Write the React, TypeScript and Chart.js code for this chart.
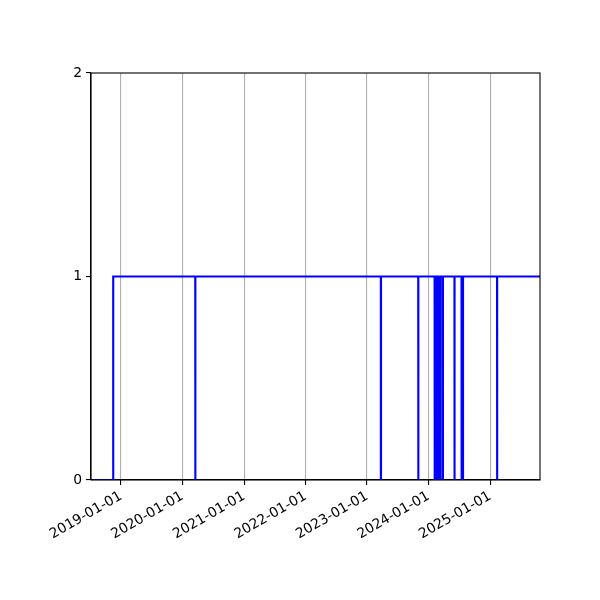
import { useEffect, useRef } from 'react';
import { Chart, registerables } from 'chart.js';

Chart.register(...registerables);

// Step series: 0 until the rise, then 1 with short dips to 0
const startDate = '2018-07-07';
const riseDate = '2018-11-16';
const endDate = '2025-10-24';
const dropDates = [
	'2020-03-17', '2023-03-24', '2023-11-01', '2024-02-06', '2024-02-14',
	'2024-02-23', '2024-03-03', '2024-03-12', '2024-03-26', '2024-06-03',
	'2024-07-15', '2024-07-23', '2025-02-11',
];
const restoreDates = [
	'2020-03-18', '2023-03-25', '2023-11-02', '2024-02-07', '2024-02-15',
	'2024-02-24', '2024-03-04', '2024-03-13', '2024-03-27', '2024-06-04',
	'2024-07-16', '2024-07-24', '2025-02-12',
];
const xTickLabels = [
	'2019-01-01', '2020-01-01', '2021-01-01', '2022-01-01',
	'2023-01-01', '2024-01-01', '2025-01-01',
];
const yTicks = [0, 1, 2];

const ts = (d: string) => Date.parse(d + 'T00:00:00Z');

const frame = {
	id: 'frame',
	afterDraw(chart: any) {
		const { ctx, chartArea } = chart;
		ctx.save();
		ctx.strokeStyle = '#000';
		ctx.lineWidth = 1.1;
		ctx.strokeRect(chartArea.left, chartArea.top, chartArea.right - chartArea.left, chartArea.bottom - chartArea.top);
		ctx.restore();
	},
};

export default function App() {
	const canvasRef = useRef<HTMLCanvasElement>(null);

	useEffect(() => {
		document.body.style.margin = '0';
		if (!canvasRef.current) return;

		const points: { x: number; y: number }[] = [
			{ x: ts(startDate), y: 0 },
			{ x: ts(riseDate), y: 0 },
			{ x: ts(riseDate), y: 1 },
		];
		dropDates.forEach((d, i) => {
			points.push({ x: ts(d), y: 1 });
			points.push({ x: ts(d), y: 0 });
			points.push({ x: ts(restoreDates[i]), y: 0 });
			points.push({ x: ts(restoreDates[i]), y: 1 });
		});
		points.push({ x: ts(endDate), y: 1 });

		const font = { family: 'DejaVu Sans', size: 13.9 };

		const chart = new Chart(canvasRef.current, {
			type: 'line',
			data: {
				datasets: [
					{
						data: points,
						borderColor: '#0000ff',
						borderWidth: 2.1,
						pointRadius: 0,
						fill: false,
						tension: 0,
					},
				],
			},
			options: {
				animation: false,
				responsive: true,
				maintainAspectRatio: false,
				layout: { padding: { left: 0, top: 73, right: 60, bottom: 0 } },
				plugins: { legend: { display: false }, tooltip: { enabled: false } },
				scales: {
					x: {
						type: 'linear',
						min: ts(startDate),
						max: ts(endDate),
						afterBuildTicks: (scale: any) => {
							scale.ticks = xTickLabels.map((d) => ({ value: ts(d) }));
						},
						afterFit: (scale: any) => {
							scale.height = 120;
						},
						ticks: {
							color: '#000',
							font,
							minRotation: 30,
							maxRotation: 30,
							autoSkip: false,
							padding: 3,
							callback: (v: any) => new Date(Number(v)).toISOString().slice(0, 10),
						},
						grid: {
							color: '#b0b0b0',
							lineWidth: 1.1,
							tickColor: '#000',
							tickLength: 5,
						},
						border: { color: '#000', width: 1.1 },
					},
					y: {
						min: 0,
						max: 2,
						afterBuildTicks: (scale: any) => {
							scale.ticks = yTicks.map((v) => ({ value: v }));
						},
						afterFit: (scale: any) => {
							scale.width = 91;
						},
						ticks: { color: '#000', font, padding: 4 },
						grid: {
							drawOnChartArea: false,
							tickColor: '#000',
							tickLength: 5,
							lineWidth: 1.1,
						},
						border: { color: '#000', width: 1.1 },
					},
				},
			},
			plugins: [frame],
		});

		return () => chart.destroy();
	}, []);

	return (
		<div style={{ position: 'fixed', left: 0, top: 0, width: '600px', height: '600px', background: '#fff' }}>
			<canvas ref={canvasRef}></canvas>
		</div>
	);
}
